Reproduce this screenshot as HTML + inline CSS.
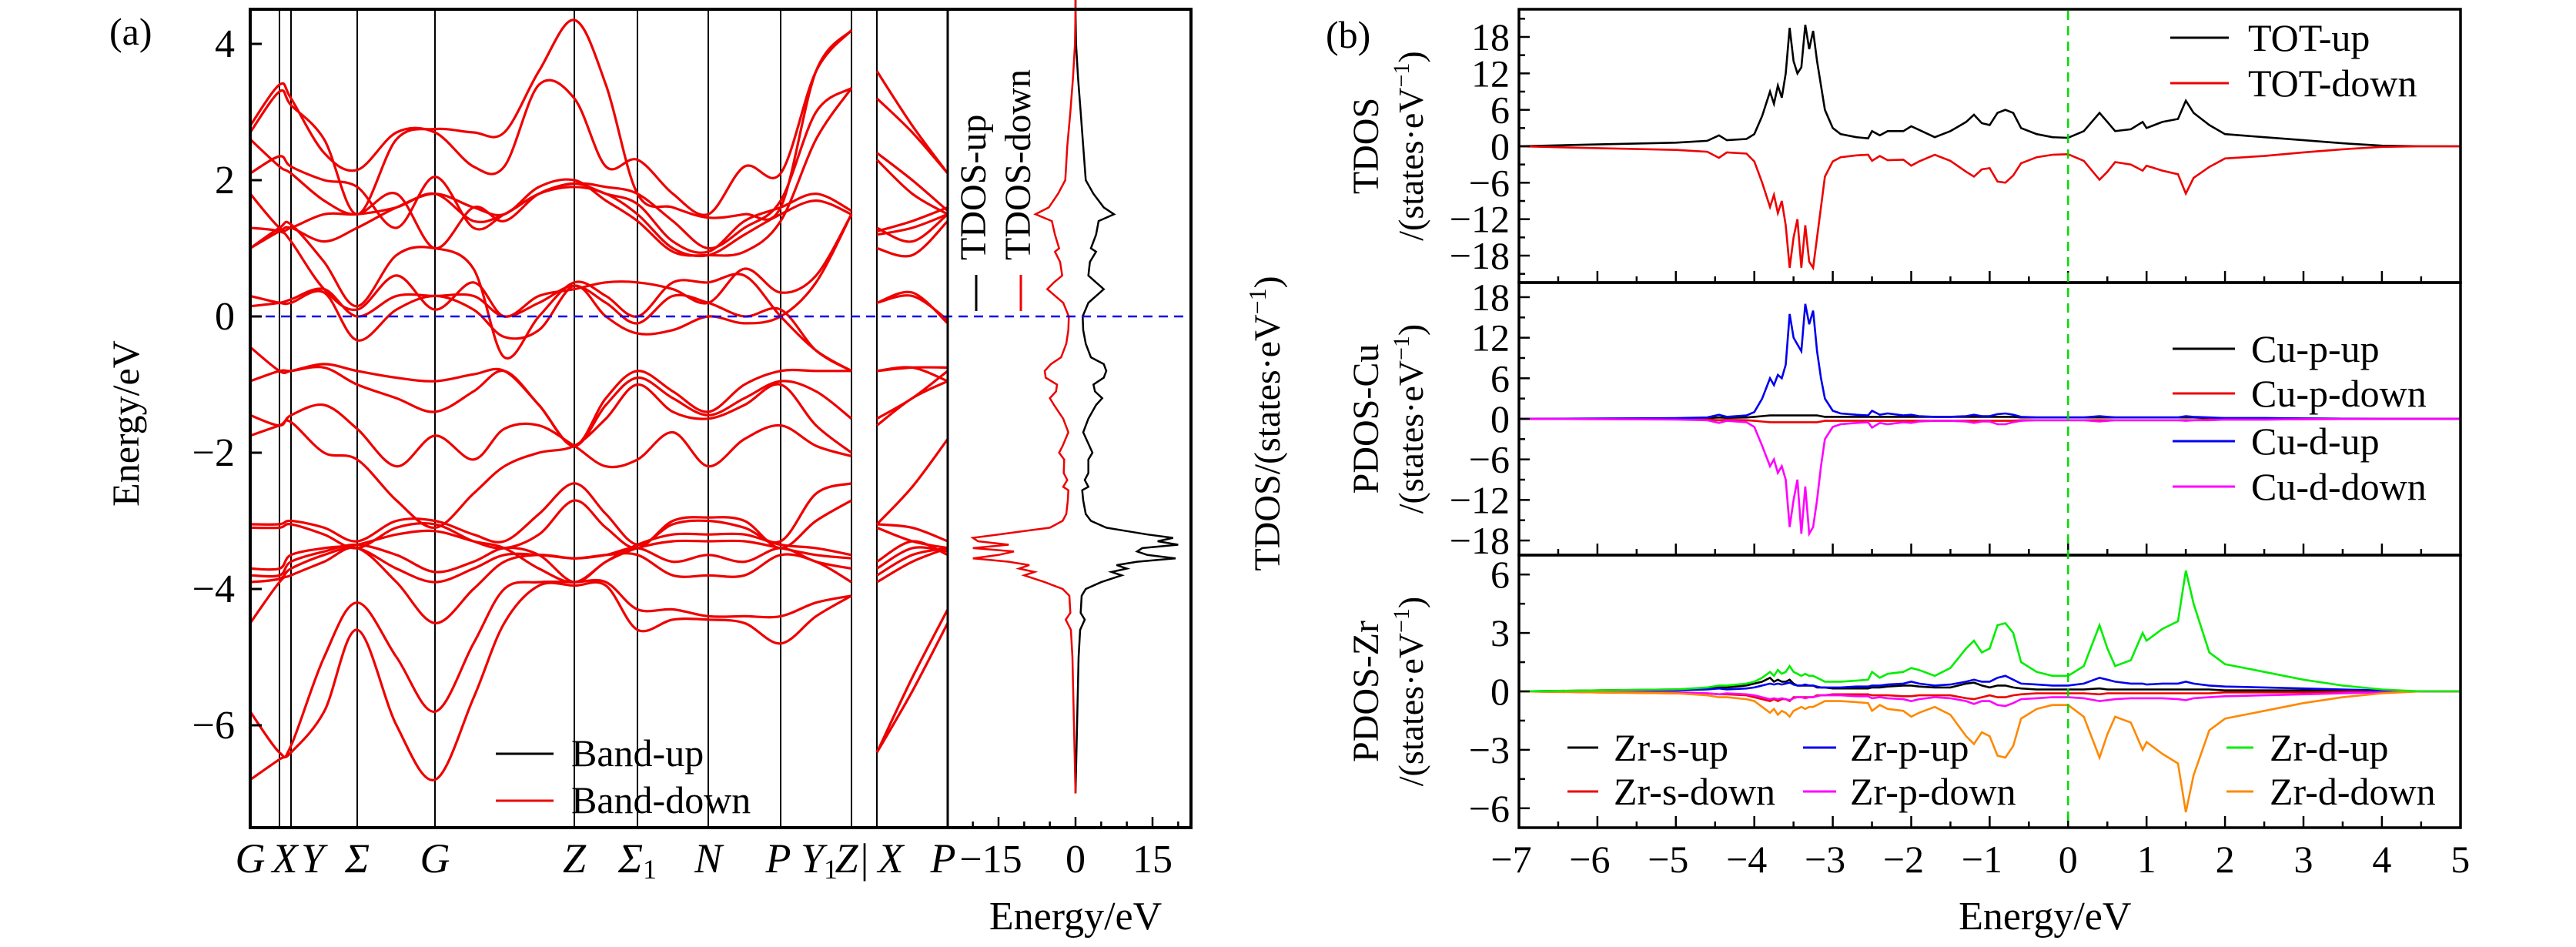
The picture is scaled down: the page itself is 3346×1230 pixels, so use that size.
<!DOCTYPE html>
<html><head><meta charset="utf-8"><style>
html,body{margin:0;padding:0;background:#fff}
svg{display:block}
text{font-family:"Liberation Serif",serif;fill:#000}
</style></head><body>
<svg id="fig" width="3346" height="1230" viewBox="0 0 3346 1230" xmlns="http://www.w3.org/2000/svg">
<g id="layer-a"></g>
<g id="layer-b"></g>
</svg>
<script>
// ---------- Panel (a) band structure data ----------
const kNodes1 = [0,38,53,96,139,190,240,290,330,375,421,462,503,549,595,642,689,735,781];
const bands1 = [
[-6.8,-6.5,-6.4,-5.8,-4.6,-6.0,-6.8,-5.6,-4.5,-3.95,-3.95,-3.95,-4.6,-4.45,-4.45,-4.5,-4.8,-4.4,-4.1],
[-5.8,-6.4,-6.3,-5.0,-4.2,-5.0,-5.8,-4.8,-4.0,-3.9,-3.9,-3.9,-4.3,-4.3,-4.4,-4.4,-4.4,-4.2,-4.1],
[-4.5,-3.9,-3.8,-3.6,-3.4,-3.9,-4.5,-4.0,-3.6,-3.5,-3.55,-3.5,-3.5,-3.8,-3.8,-3.8,-3.5,-3.6,-3.9],
[-3.9,-3.85,-3.7,-3.5,-3.4,-3.7,-3.9,-3.7,-3.5,-3.5,-3.55,-3.5,-3.4,-3.6,-3.5,-3.6,-3.4,-3.6,-3.7],
[-3.8,-3.8,-3.6,-3.45,-3.35,-3.5,-3.75,-3.6,-3.4,-3.5,-3.9,-3.6,-3.4,-3.3,-3.3,-3.3,-3.4,-3.5,-3.55],
[-3.7,-3.7,-3.5,-3.4,-3.35,-3.2,-3.15,-3.3,-3.4,-3.7,-3.9,-3.6,-3.35,-3.2,-3.2,-3.2,-3.35,-3.4,-3.5],
[-3.1,-3.1,-3.05,-3.2,-3.4,-3.1,-3.05,-3.3,-3.4,-3.2,-2.7,-3.1,-3.4,-3.0,-2.95,-3.0,-3.4,-3.0,-2.7],
[-3.05,-3.05,-3.0,-3.1,-3.3,-3.0,-3.0,-3.2,-3.3,-2.9,-2.45,-2.9,-3.35,-3.05,-3.0,-3.1,-3.3,-2.6,-2.45],
[-1.75,-1.6,-1.55,-2.0,-2.1,-2.7,-3.1,-2.6,-2.2,-2.0,-1.9,-1.5,-1.0,-1.4,-1.5,-1.3,-1.0,-1.6,-2.0],
[-1.45,-1.6,-1.45,-1.3,-1.65,-2.2,-1.75,-2.1,-1.65,-1.6,-1.9,-2.2,-2.1,-1.7,-2.2,-1.8,-1.6,-1.9,-2.05],
[-0.95,-0.8,-0.8,-0.75,-1.0,-1.2,-1.4,-1.1,-0.8,-1.3,-1.9,-1.3,-0.9,-1.2,-1.45,-1.2,-0.95,-1.1,-1.5],
[-0.45,-0.8,-0.8,-0.7,-0.8,-0.9,-0.95,-0.85,-0.8,-1.3,-1.9,-1.2,-0.8,-1.1,-1.4,-1.0,-0.8,-0.8,-0.8],
[0.3,0.2,0.2,0.35,-0.35,0.1,0.3,0.1,-0.3,-0.2,0.45,0.0,-0.25,-0.2,0.0,-0.1,0.0,0.5,1.5],
[0.15,0.2,0.25,0.4,0.0,0.3,0.3,0.3,0.0,0.2,0.45,0.2,-0.1,0.3,0.2,0.0,0.1,-0.5,-0.8],
[1.0,1.3,1.35,0.8,0.15,0.9,1.0,0.7,-0.6,0.0,0.5,0.3,0.0,0.5,0.5,0.6,0.0,-0.5,-0.8],
[1.3,1.25,1.1,0.4,0.1,0.6,0.1,0.5,0.0,0.3,0.4,0.5,0.5,0.4,0.2,0.7,0.35,0.6,1.5],
[1.8,1.3,1.3,1.5,1.5,1.6,1.8,1.4,1.5,1.8,1.9,1.8,1.5,1.0,0.9,1.2,1.5,1.7,1.5],
[2.1,2.35,2.2,2.0,1.9,1.3,2.05,1.3,1.5,1.8,1.95,1.8,1.65,1.1,0.95,1.4,1.6,1.8,1.55],
[2.6,2.2,2.1,1.7,1.5,1.8,1.0,1.6,1.4,1.8,1.95,1.9,1.8,1.4,1.0,1.3,1.7,3.0,3.35],
[2.8,3.4,3.2,2.4,2.15,2.7,2.7,2.2,2.2,3.4,3.2,2.2,2.3,1.8,1.5,2.2,2.1,3.6,4.2],
[2.7,3.3,3.1,2.6,1.5,2.6,2.75,2.7,2.7,3.6,4.35,3.4,1.8,1.6,1.45,1.5,1.6,3.6,4.2],
[1.0,1.25,1.3,1.1,1.3,1.6,1.8,1.6,1.5,1.9,2.0,1.7,1.4,0.95,0.9,0.95,1.4,2.6,3.35]
];
const kNodes2 = [814,860,906];
const bands2 = [
[-6.4,-5.5,-4.5],[-6.4,-5.3,-4.3],[-3.9,-3.6,-3.4],[-3.8,-3.5,-3.4],[-3.7,-3.4,-3.45],
[-3.6,-3.3,-3.5],[-3.1,-3.3,-3.4],[-3.05,-3.1,-3.3],[-3.05,-2.5,-1.8],[-1.6,-1.2,-0.95],
[-1.5,-1.2,-0.8],[-0.8,-0.75,-0.95],[-0.8,-0.75,-0.75],[0.2,0.35,-0.1],[0.2,0.3,-0.05],
[1.0,0.9,1.4],[1.3,1.1,1.5],[1.2,1.3,1.5],[1.25,1.4,1.6],[2.4,2.0,1.55],[2.3,1.8,1.5],
[3.6,2.8,2.1],[3.2,2.7,2.1]
];
const kLinePos = [38,53,139,240,421,503,595,689,781,814,906];
const kLabels = ["G","X","Y","Σ","G","Z","Σ","N","P","Y","Z|","X","P"];
const kLabelPos = [0,45,81,139,240,421,503,595,686,739,782,832,900];
const bandYTicks = [-6,-4,-2,0,2,4];
const dosXTicks = [-15,0,15];

// ---------- DOS data ----------
const energy = [-7,-6,-5,-4.6,-4.45,-4.35,-4.1,-4.0,-3.9,-3.8,-3.75,-3.7,-3.65,-3.6,-3.55,-3.5,-3.45,-3.4,-3.35,-3.3,-3.25,-3.2,-3.15,-3.1,-3.0,-2.9,-2.7,-2.55,-2.5,-2.4,-2.3,-2.1,-2.0,-1.9,-1.7,-1.5,-1.3,-1.2,-1.1,-1.0,-0.9,-0.8,-0.7,-0.6,-0.4,-0.2,0,0.2,0.4,0.5,0.6,0.8,0.95,1.0,1.2,1.4,1.5,1.6,1.8,2.0,2.5,3.0,3.5,4.0,4.5,5];
const totUp = [0,0.3,0.6,0.9,1.8,1.0,1.2,2,5,9,7,10,8,12,19.5,14,12,13,20,16,19,14,10,6,3,2,1.5,1.3,2.5,1.8,2.5,2.5,3.3,2.7,1.5,2.5,4.0,5.2,3.8,3.5,5.5,6,5.5,3,2,1.5,1.4,2.5,5.5,4,2.5,2.8,4,3,4,4.5,7.5,5.5,3.5,2.0,1.5,1.0,0.5,0.1,0,0];
const totDown = [0,-0.3,-0.6,-0.9,-1.9,-1.0,-1.2,-2.5,-6,-10,-8,-11,-9,-13,-20,-15,-12,-20,-13,-19,-20,-15,-10,-5,-2.5,-1.8,-1.5,-1.4,-2.4,-1.6,-2.3,-2.2,-3.2,-2.5,-1.4,-2.4,-4.2,-5.0,-3.8,-3.6,-5.8,-6,-4.8,-2.8,-1.8,-1.4,-1.3,-2.4,-5.5,-4.2,-2.6,-3.0,-4,-3.2,-4,-4.6,-7.8,-5.2,-3.4,-2.0,-1.6,-1.0,-0.5,-0.1,0,0];
const cuPUp = [0,0.02,0.05,0.1,0.2,0.15,0.2,0.3,0.4,0.5,0.5,0.5,0.5,0.5,0.5,0.5,0.5,0.5,0.5,0.5,0.5,0.5,0.4,0.3,0.3,0.3,0.3,0.3,0.3,0.3,0.3,0.3,0.3,0.3,0.3,0.3,0.3,0.3,0.3,0.3,0.3,0.3,0.3,0.2,0.2,0.2,0.2,0.2,0.2,0.2,0.2,0.2,0.2,0.2,0.2,0.2,0.2,0.2,0.1,0.1,0.1,0.05,0.02,0,0,0];
const cuPDown = cuPUp.map(v => -v);
const cuDUp = [0,0.05,0.1,0.2,0.6,0.3,0.5,1,3,6,5,6.5,6,8,15.5,12,11,10,17,14,16,10,6,3,1.2,0.8,0.6,0.5,1.2,0.6,0.8,0.5,0.6,0.4,0.3,0.3,0.4,0.6,0.4,0.4,0.7,0.8,0.6,0.3,0.2,0.2,0.2,0.2,0.4,0.3,0.2,0.2,0.2,0.2,0.2,0.2,0.4,0.3,0.2,0.1,0.1,0.05,0.02,0,0,0];
const cuDDown = [0,-0.05,-0.1,-0.2,-0.6,-0.3,-0.5,-1.2,-4,-7,-6,-8,-7,-9,-16,-12,-9,-17,-10,-17,-16,-12,-7,-3,-1.2,-0.8,-0.6,-0.5,-1.3,-0.6,-0.8,-0.5,-0.6,-0.4,-0.3,-0.3,-0.4,-0.6,-0.4,-0.4,-0.8,-0.8,-0.5,-0.3,-0.2,-0.2,-0.2,-0.2,-0.4,-0.3,-0.2,-0.2,-0.2,-0.2,-0.2,-0.2,-0.3,-0.2,-0.2,-0.1,-0.1,-0.05,-0.02,0,0,0];
const zrSUp = [0,0.05,0.1,0.15,0.2,0.2,0.3,0.4,0.5,0.7,0.5,0.6,0.5,0.5,0.6,0.4,0.3,0.3,0.3,0.3,0.3,0.2,0.2,0.2,0.15,0.15,0.15,0.15,0.2,0.2,0.25,0.3,0.3,0.25,0.2,0.2,0.4,0.45,0.3,0.2,0.3,0.3,0.2,0.15,0.1,0.1,0.1,0.1,0.15,0.1,0.1,0.1,0.1,0.1,0.1,0.1,0.1,0.1,0.1,0.05,0.05,0.05,0.02,0,0,0];
const zrSDown = [0,-0.05,-0.1,-0.1,-0.15,-0.15,-0.2,-0.3,-0.4,-0.5,-0.4,-0.5,-0.4,-0.4,-0.5,-0.3,-0.3,-0.3,-0.3,-0.3,-0.3,-0.2,-0.2,-0.2,-0.15,-0.15,-0.15,-0.15,-0.2,-0.2,-0.2,-0.25,-0.25,-0.2,-0.2,-0.2,-0.35,-0.4,-0.3,-0.2,-0.3,-0.3,-0.2,-0.15,-0.1,-0.1,-0.1,-0.1,-0.15,-0.1,-0.1,-0.1,-0.1,-0.1,-0.1,-0.1,-0.1,-0.1,-0.1,-0.05,-0.05,-0.05,-0.02,0,0,0];
const zrPUp = [0,0.02,0.05,0.1,0.15,0.1,0.15,0.2,0.3,0.4,0.35,0.4,0.35,0.4,0.45,0.35,0.3,0.3,0.35,0.3,0.3,0.25,0.2,0.2,0.2,0.2,0.25,0.25,0.3,0.3,0.35,0.4,0.5,0.4,0.3,0.35,0.5,0.6,0.5,0.5,0.7,0.8,0.6,0.4,0.35,0.3,0.3,0.4,0.7,0.6,0.5,0.4,0.4,0.35,0.4,0.4,0.5,0.4,0.3,0.25,0.2,0.15,0.1,0.05,0,0];
const zrPDown = [0,-0.02,-0.05,-0.1,-0.15,-0.1,-0.15,-0.2,-0.3,-0.4,-0.35,-0.4,-0.35,-0.4,-0.45,-0.35,-0.3,-0.3,-0.35,-0.3,-0.3,-0.25,-0.2,-0.2,-0.2,-0.2,-0.25,-0.25,-0.35,-0.3,-0.35,-0.4,-0.5,-0.4,-0.3,-0.35,-0.5,-0.65,-0.5,-0.5,-0.7,-0.75,-0.6,-0.4,-0.35,-0.3,-0.3,-0.35,-0.5,-0.45,-0.4,-0.35,-0.35,-0.35,-0.35,-0.4,-0.45,-0.35,-0.3,-0.25,-0.2,-0.15,-0.1,-0.05,0,0];
const zrDUp = [0,0.05,0.1,0.2,0.3,0.3,0.4,0.5,0.7,1.0,0.8,1.1,0.9,1.0,1.3,1.0,0.9,0.8,0.9,0.8,0.8,0.7,0.6,0.5,0.5,0.5,0.55,0.6,1.0,0.7,0.9,1.0,1.2,1.1,0.8,1.2,2.2,2.6,2.0,2.2,3.4,3.5,3.0,1.5,1.0,0.8,0.8,1.3,3.4,2.2,1.3,1.6,3.0,2.6,3.2,3.6,6.2,4.5,2.0,1.4,1.0,0.6,0.3,0.1,0,0];
const zrDDown = [0,-0.05,-0.1,-0.2,-0.3,-0.3,-0.4,-0.5,-0.8,-1.1,-0.9,-1.2,-1.0,-1.1,-1.3,-1.0,-0.9,-0.8,-0.9,-0.8,-0.8,-0.7,-0.6,-0.5,-0.5,-0.5,-0.55,-0.6,-1.0,-0.7,-0.9,-1.0,-1.3,-1.1,-0.8,-1.2,-2.3,-2.7,-2.1,-2.3,-3.3,-3.4,-2.8,-1.4,-0.9,-0.7,-0.7,-1.3,-3.4,-2.2,-1.3,-1.6,-3.0,-2.6,-3.2,-3.7,-6.2,-4.3,-2.0,-1.4,-1.0,-0.6,-0.3,-0.1,0,0];
const bXTicks = [-7,-6,-5,-4,-3,-2,-1,0,1,2,3,4,5];
const tdosTicks = [-18,-12,-6,0,6,12,18];
const cuTicks = [-18,-12,-6,0,6,12,18];
const zrTicks = [-6,-3,0,3,6];

// ---------- helpers ----------
const NS = "http://www.w3.org/2000/svg";
function mk(parent, tag, attrs, txt){
  const e = document.createElementNS(NS, tag);
  for (const k in attrs) e.setAttribute(k, attrs[k]);
  if (txt !== undefined) e.textContent = txt;
  parent.appendChild(e);
  return e;
}
function fmt(v){ return (v < 0 ? "−" : "") + Math.abs(v); }
function smoothPath(pts){
  let d = "M" + pts[0][0].toFixed(1) + "," + pts[0][1].toFixed(1);
  for (let i = 0; i < pts.length - 1; i++){
    const p0 = pts[Math.max(i-1,0)], p1 = pts[i], p2 = pts[i+1], p3 = pts[Math.min(i+2,pts.length-1)];
    const c1x = p1[0] + (p2[0]-p0[0])/6, c1y = p1[1] + (p2[1]-p0[1])/6;
    const c2x = p2[0] - (p3[0]-p1[0])/6, c2y = p2[1] - (p3[1]-p1[1])/6;
    d += " C" + c1x.toFixed(1) + "," + c1y.toFixed(1) + " " + c2x.toFixed(1) + "," + c2y.toFixed(1) + " " + p2[0].toFixed(1) + "," + p2[1].toFixed(1);
  }
  return d;
}
function linePath(pts){ return pts.map((p,i)=>(i?"L":"M")+p[0].toFixed(1)+","+p[1].toFixed(1)).join(" "); }

// ---------- Panel (a) ----------
const A = document.getElementById("layer-a");
const aL = 325, aR = 1231, dR = 1547, aT = 12, aB = 1075;
const kx = k => aL + k;
const ey = E => 411 - 88.5 * E;
const dx = v => 1397 + v * 6.667;

kLinePos.forEach(k => {
  const l = mk(A, "line", {x1:kx(k), x2:kx(k), y1:aT, y2:aB, stroke:"#000", "stroke-width":2});
  
  
});
const bandG = mk(A, "g", {fill:"none", stroke:"#ee0000", "stroke-width":3.2});


bands1.forEach(b => {
  const p = mk(bandG, "path", {d: smoothPath(b.map((E,i)=>[kx(kNodes1[i]), ey(E)]))});
  
  
});
bands2.forEach(b => {
  const p = mk(bandG, "path", {d: smoothPath(b.map((E,i)=>[kx(kNodes2[i]), ey(E)]))});
  
  
});
const dUp = mk(A, "path", {d: linePath(energy.map((E,i)=>[dx(totUp[i]), ey(E)])), fill:"none", stroke:"#000", "stroke-width":2.5});


const dDn = mk(A, "path", {d: linePath(energy.map((E,i)=>[dx(totDown[i]), ey(E)])), fill:"none", stroke:"#ee0000", "stroke-width":2.5});


const fl = mk(A, "line", {x1:aL, x2:dR, y1:ey(0), y2:ey(0), stroke:"#0000ee", "stroke-width":2.5, "stroke-dasharray":"12,8"});


const f1 = mk(A, "rect", {x:aL, y:aT, width:dR-aL, height:aB-aT, fill:"none", stroke:"#000", "stroke-width":4});


const sep = mk(A, "line", {x1:aR, x2:aR, y1:aT, y2:aB, stroke:"#000", "stroke-width":3});


bandYTicks.forEach(v => {
  const t = mk(A, "line", {x1:aL, x2:aL+15, y1:ey(v), y2:ey(v), stroke:"#000", "stroke-width":3});
  
  
  const lb = mk(A, "text", {x:aL-20, y:ey(v)+17, "font-size":52, "text-anchor":"end"}, fmt(v));
  
  
});
for (let v = -20; v <= 20; v += 5){
  const major = dosXTicks.includes(v);
  const t = mk(A, "line", {x1:dx(v), x2:dx(v), y1:aB, y2:aB-(major?14:8), stroke:"#000", "stroke-width":2.5});
  
  
}
dosXTicks.forEach(v => {
  const lb = mk(A, "text", {x:dx(v)-(v<0?10:0), y:1133, "font-size":52, "text-anchor":"middle"}, fmt(v));
  
  
});
kLabels.forEach((s,i) => {
  const lb = mk(A, "text", {x:kx(kLabelPos[i]), y:1133, "font-size":54, "font-style":"italic", "text-anchor":"middle"}, s);
  if (i === 6 || i === 9){ mk(lb, "tspan", {"font-size":36, "font-style":"normal", dy:8}, "1"); }
  
  
});
const at1 = mk(A, "text", {x:0, y:0, "font-size":50, "text-anchor":"middle", transform:"translate(180,550) rotate(-90)"}, "Energy/eV");


const at2 = mk(A, "text", {x:0, y:0, "font-size":48, "text-anchor":"middle", transform:"translate(1662,550) rotate(-90)"}, "TDOS/(states·eV");
mk(at2, "tspan", {"font-size":32, dy:-18}, "−1");
mk(at2, "tspan", {dy:18}, ")");


const at3 = mk(A, "text", {x:1397, y:1207, "font-size":52, "text-anchor":"middle"}, "Energy/eV");


const pa = mk(A, "text", {x:142, y:58, "font-size":50}, "(a)");


[["Band-up","#000",979],["Band-down","#ee0000",1040]].forEach(l => {
  const g = mk(A, "g", {});
  
  
  mk(g, "line", {x1:644, x2:719, y1:l[2], y2:l[2], stroke:l[1], "stroke-width":3});
  mk(g, "text", {x:742, y:l[2]+16, "font-size":50}, l[0]);
});
[["TDOS-up","#000",1280],["TDOS-down","#ee0000",1338]].forEach(l => {
  const g = mk(A, "g", {});
  
  
  mk(g, "line", {x1:l[2]-12, x2:l[2]-12, y1:357, y2:404, stroke:l[1], "stroke-width":3});
  mk(g, "text", {x:0, y:0, "font-size":48, transform:"translate("+l[2]+",338) rotate(-90)"}, l[0]);
});

// ---------- Panel (b) ----------
const B = document.getElementById("layer-b");
const bL = 1973, bR = 3196;
const bx = E => bL + (E + 7) * 101.9;
const panels = [
  {top:12, bot:367, c:190, s:7.89, ticks:tdosTicks, minor:3, name:"tdos",
   series:[[totUp,"#000"],[totDown,"#ee0000"]], title:"TDOS"},
  {top:367, bot:721, c:544, s:8.78, ticks:cuTicks, minor:3, name:"pdos-cu",
   series:[[cuPUp,"#000"],[cuPDown,"#ee0000"],[cuDUp,"#0000ee"],[cuDDown,"#ff00ff"]], title:"PDOS-Cu"},
  {top:721, bot:1075, c:898, s:25.3, ticks:zrTicks, minor:1.5, name:"pdos-zr",
   series:[[zrSUp,"#000"],[zrSDown,"#ee0000"],[zrPUp,"#0000ee"],[zrPDown,"#ff00ff"],[zrDDown,"#ff8800"],[zrDUp,"#00ee00"]], title:"PDOS-Zr"}
];
panels.forEach(P => {
  const g = mk(B, "g", {});
  
  
  const yv = v => P.c - v * P.s;
  P.series.forEach(sr => {
    const p = mk(g, "path", {d: linePath(energy.map((E,i)=>[bx(E), yv(sr[0][i])])), fill:"none", stroke:sr[1], "stroke-width":2.6});
    
    
  });
  const fr = mk(g, "rect", {x:bL, y:P.top, width:bR-bL, height:P.bot-P.top, fill:"none", stroke:"#000", "stroke-width":3.5});
  
  
  const tmin = P.ticks[0], tmax = P.ticks[P.ticks.length-1];
  for (let v = tmin - P.minor; v <= tmax + P.minor + 1e-6; v += P.minor){
    const y = yv(v); if (y < P.top + 3 || y > P.bot - 3) continue;
    const major = P.ticks.some(t => Math.abs(t - v) < 1e-6);
    const t = mk(g, "line", {x1:bL, x2:bL+(major?14:8), y1:y, y2:y, stroke:"#000", "stroke-width":2.5});
    
    
  }
  P.ticks.forEach(v => {
    const lb = mk(g, "text", {x:bL-12, y:yv(v)+17, "font-size":50, "text-anchor":"end"}, fmt(v));
    
    
  });
  for (let v = -7; v <= 5; v += 0.5){
    const major = Math.abs(v - Math.round(v)) < 1e-6;
    const t = mk(g, "line", {x1:bx(v), x2:bx(v), y1:P.bot, y2:P.bot-(major?15:8), stroke:"#000", "stroke-width":2.5});
    
    
  }
  const cy = (P.top + P.bot) / 2;
  const t1 = mk(g, "text", {x:0, y:0, "font-size":48, "text-anchor":"middle", transform:"translate(1790,"+cy+") rotate(-90)"}, P.title);
  
  
  const t2 = mk(g, "text", {x:0, y:0, "font-size":46, "text-anchor":"middle", transform:"translate(1848,"+cy+") rotate(-90)"}, "/(states·eV");
  mk(t2, "tspan", {"font-size":30, dy:-18}, "−1");
  mk(t2, "tspan", {dy:18}, ")");
  
  
});
const gf = mk(B, "line", {x1:bx(0), x2:bx(0), y1:14, y2:1073, stroke:"#00dd00", "stroke-width":2.5, "stroke-dasharray":"12,8"});


bXTicks.forEach(v => {
  const lb = mk(B, "text", {x:bx(v)-(v<0?10:0), y:1133, "font-size":50, "text-anchor":"middle"}, fmt(v));
  
  
});
const bxt = mk(B, "text", {x:bx(0)-30, y:1207, "font-size":52, "text-anchor":"middle"}, "Energy/eV");


const pb = mk(B, "text", {x:1722, y:62, "font-size":50}, "(b)");


const legs = [
  ["TOT-up","#000",2819,2895,2920,49],["TOT-down","#ee0000",2819,2895,2920,108],
  ["Cu-p-up","#000",2822,2903,2924,453],["Cu-p-down","#ee0000",2822,2903,2924,511],
  ["Cu-d-up","#0000ee",2822,2903,2924,573],["Cu-d-down","#ff00ff",2822,2903,2924,632],
  ["Zr-s-up","#000",2036,2076,2096,971],["Zr-s-down","#ee0000",2036,2076,2096,1028],
  ["Zr-p-up","#0000ee",2342,2385,2403,971],["Zr-p-down","#ff00ff",2342,2385,2403,1028],
  ["Zr-d-up","#00ee00",2892,2927,2948,971],["Zr-d-down","#ff8800",2892,2927,2948,1028]
];
legs.forEach(l => {
  const g = mk(B, "g", {});
  
  
  mk(g, "line", {x1:l[2], x2:l[3], y1:l[5], y2:l[5], stroke:l[1], "stroke-width":3});
  mk(g, "text", {x:l[4], y:l[5]+17, "font-size":50}, l[0]);
});
</script>
</body></html>
